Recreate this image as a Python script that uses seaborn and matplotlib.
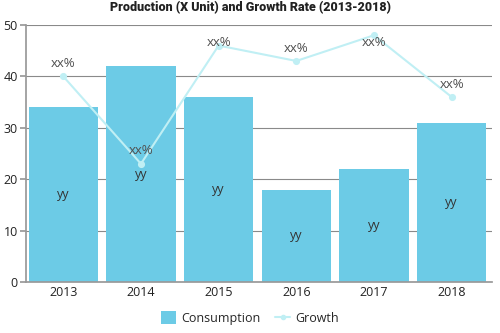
import matplotlib
matplotlib.use("Agg")
import matplotlib.pyplot as plt
import seaborn as sns
import pandas as pd
from matplotlib.lines import Line2D
from matplotlib.patches import Patch

years = ["2013", "2014", "2015", "2016", "2017", "2018"]
consumption = [34, 42, 36, 18, 22, 31]
growth = [40, 23, 46, 43, 48, 36]
bar_labels = ["yy"] * 6
growth_labels = ["xx%"] * 6

sns.set_theme(style="white")
plt.rcParams["font.family"] = ["Open Sans", "DejaVu Sans"]

bar_color = "#6ccbe6"
line_color = "#c0eff4"

df = pd.DataFrame({"year": years, "consumption": consumption, "growth": growth})

fig = plt.figure(figsize=(5, 3.33), dpi=100)
ax = fig.add_axes([0.052, 0.153, 0.932, 0.772])

sns.barplot(data=df, x="year", y="consumption", color=bar_color, width=0.89,
            saturation=1, linewidth=0, ax=ax, zorder=2)
sns.pointplot(data=df, x="year", y="growth", color=line_color, markers="o",
              markersize=4, linewidth=1.5, ax=ax, zorder=4)

for i, (c, g) in enumerate(zip(consumption, growth)):
    ax.text(i, c / 2, bar_labels[i], ha="center", va="center", fontsize=9,
            color="#333333", zorder=5)
    ax.text(i, min(g + 2.5, 46.6), growth_labels[i], ha="center", va="center",
            fontsize=9.5, color="#505050", zorder=5)

ax.set_ylim(0, 50)
ax.set_yticks([0, 10, 20, 30, 40, 50])
ax.set_xlim(-0.48, 5.52)
ax.set_xlabel("")
ax.set_ylabel("")
ax.yaxis.grid(True, color="#8a8a8a", linewidth=0.8, zorder=0)
ax.set_axisbelow(True)
for s in ["top", "right"]:
    ax.spines[s].set_visible(False)
ax.spines["left"].set_color("#999999")
ax.spines["bottom"].set_color("#999999")
ax.tick_params(axis="y", length=4, color="#999999", labelsize=9, pad=2, left=True,
               labelcolor="#222222")
ax.tick_params(axis="x", length=0, labelsize=9, pad=3, labelcolor="#222222")

fig.suptitle("Production (X Unit) and Growth Rate (2013-2018)", x=0.5, y=0.998,
             fontsize=9, fontweight="black",
             family=["Roboto", "DejaVu Sans"], color="#222222")

handles = [Patch(facecolor=bar_color, edgecolor="none"),
           Line2D([0], [0], color=line_color, marker="o", markersize=3, linewidth=1.5)]
fig.legend(handles, ["Consumption", "Growth"], loc="lower center",
           bbox_to_anchor=(0.5, -0.01), ncol=2, frameon=False, fontsize=9,
           handlelength=1.2, handleheight=1.2, columnspacing=1.2, handletextpad=0.4)

fig.savefig("out.png", dpi=100)
